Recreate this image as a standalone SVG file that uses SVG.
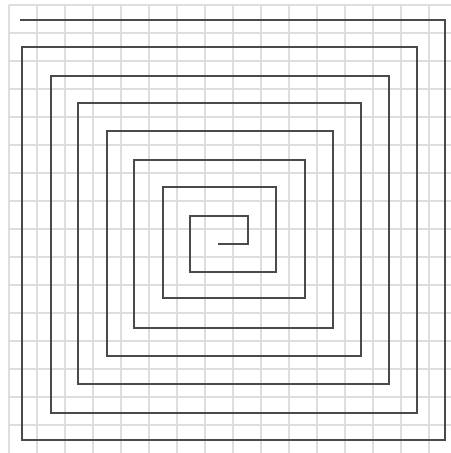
<svg xmlns="http://www.w3.org/2000/svg" width="451" height="453" viewBox="0 0 451 453">
<style>
.g{stroke:#dedede;stroke-width:2;fill:none}
.s{stroke:#4a4a4a;stroke-width:2;fill:none;stroke-linecap:square}
</style>
<rect width="451" height="453" fill="#ffffff"/>
<g id="grid" class="g">
<path d="M9,5V453M37,5V453M65,5V453M93,5V453M121,5V453M149,5V453M177,5V453M205,5V453M233,5V453M261,5V453M289,5V453M317,5V453M345,5V453M373,5V453M401,5V453M429,5V453"/>
<path d="M9,5H451M9,33H451M9,61H451M9,89H451M9,117H451M9,145H451M9,173H451M9,201H451M9,229H451M9,257H451M9,285H451M9,313H451M9,341H451M9,369H451M9,397H451M9,425H451"/>
</g>
<g id="spiral">
<path class="s" d="M219,244H248V216H190V272H276V187H163V298H305V160H134V328H333V131H107V356H361V103H78V384H389V76H51V413H417V47H22V440H445V20H21"/>
</g>
</svg>
